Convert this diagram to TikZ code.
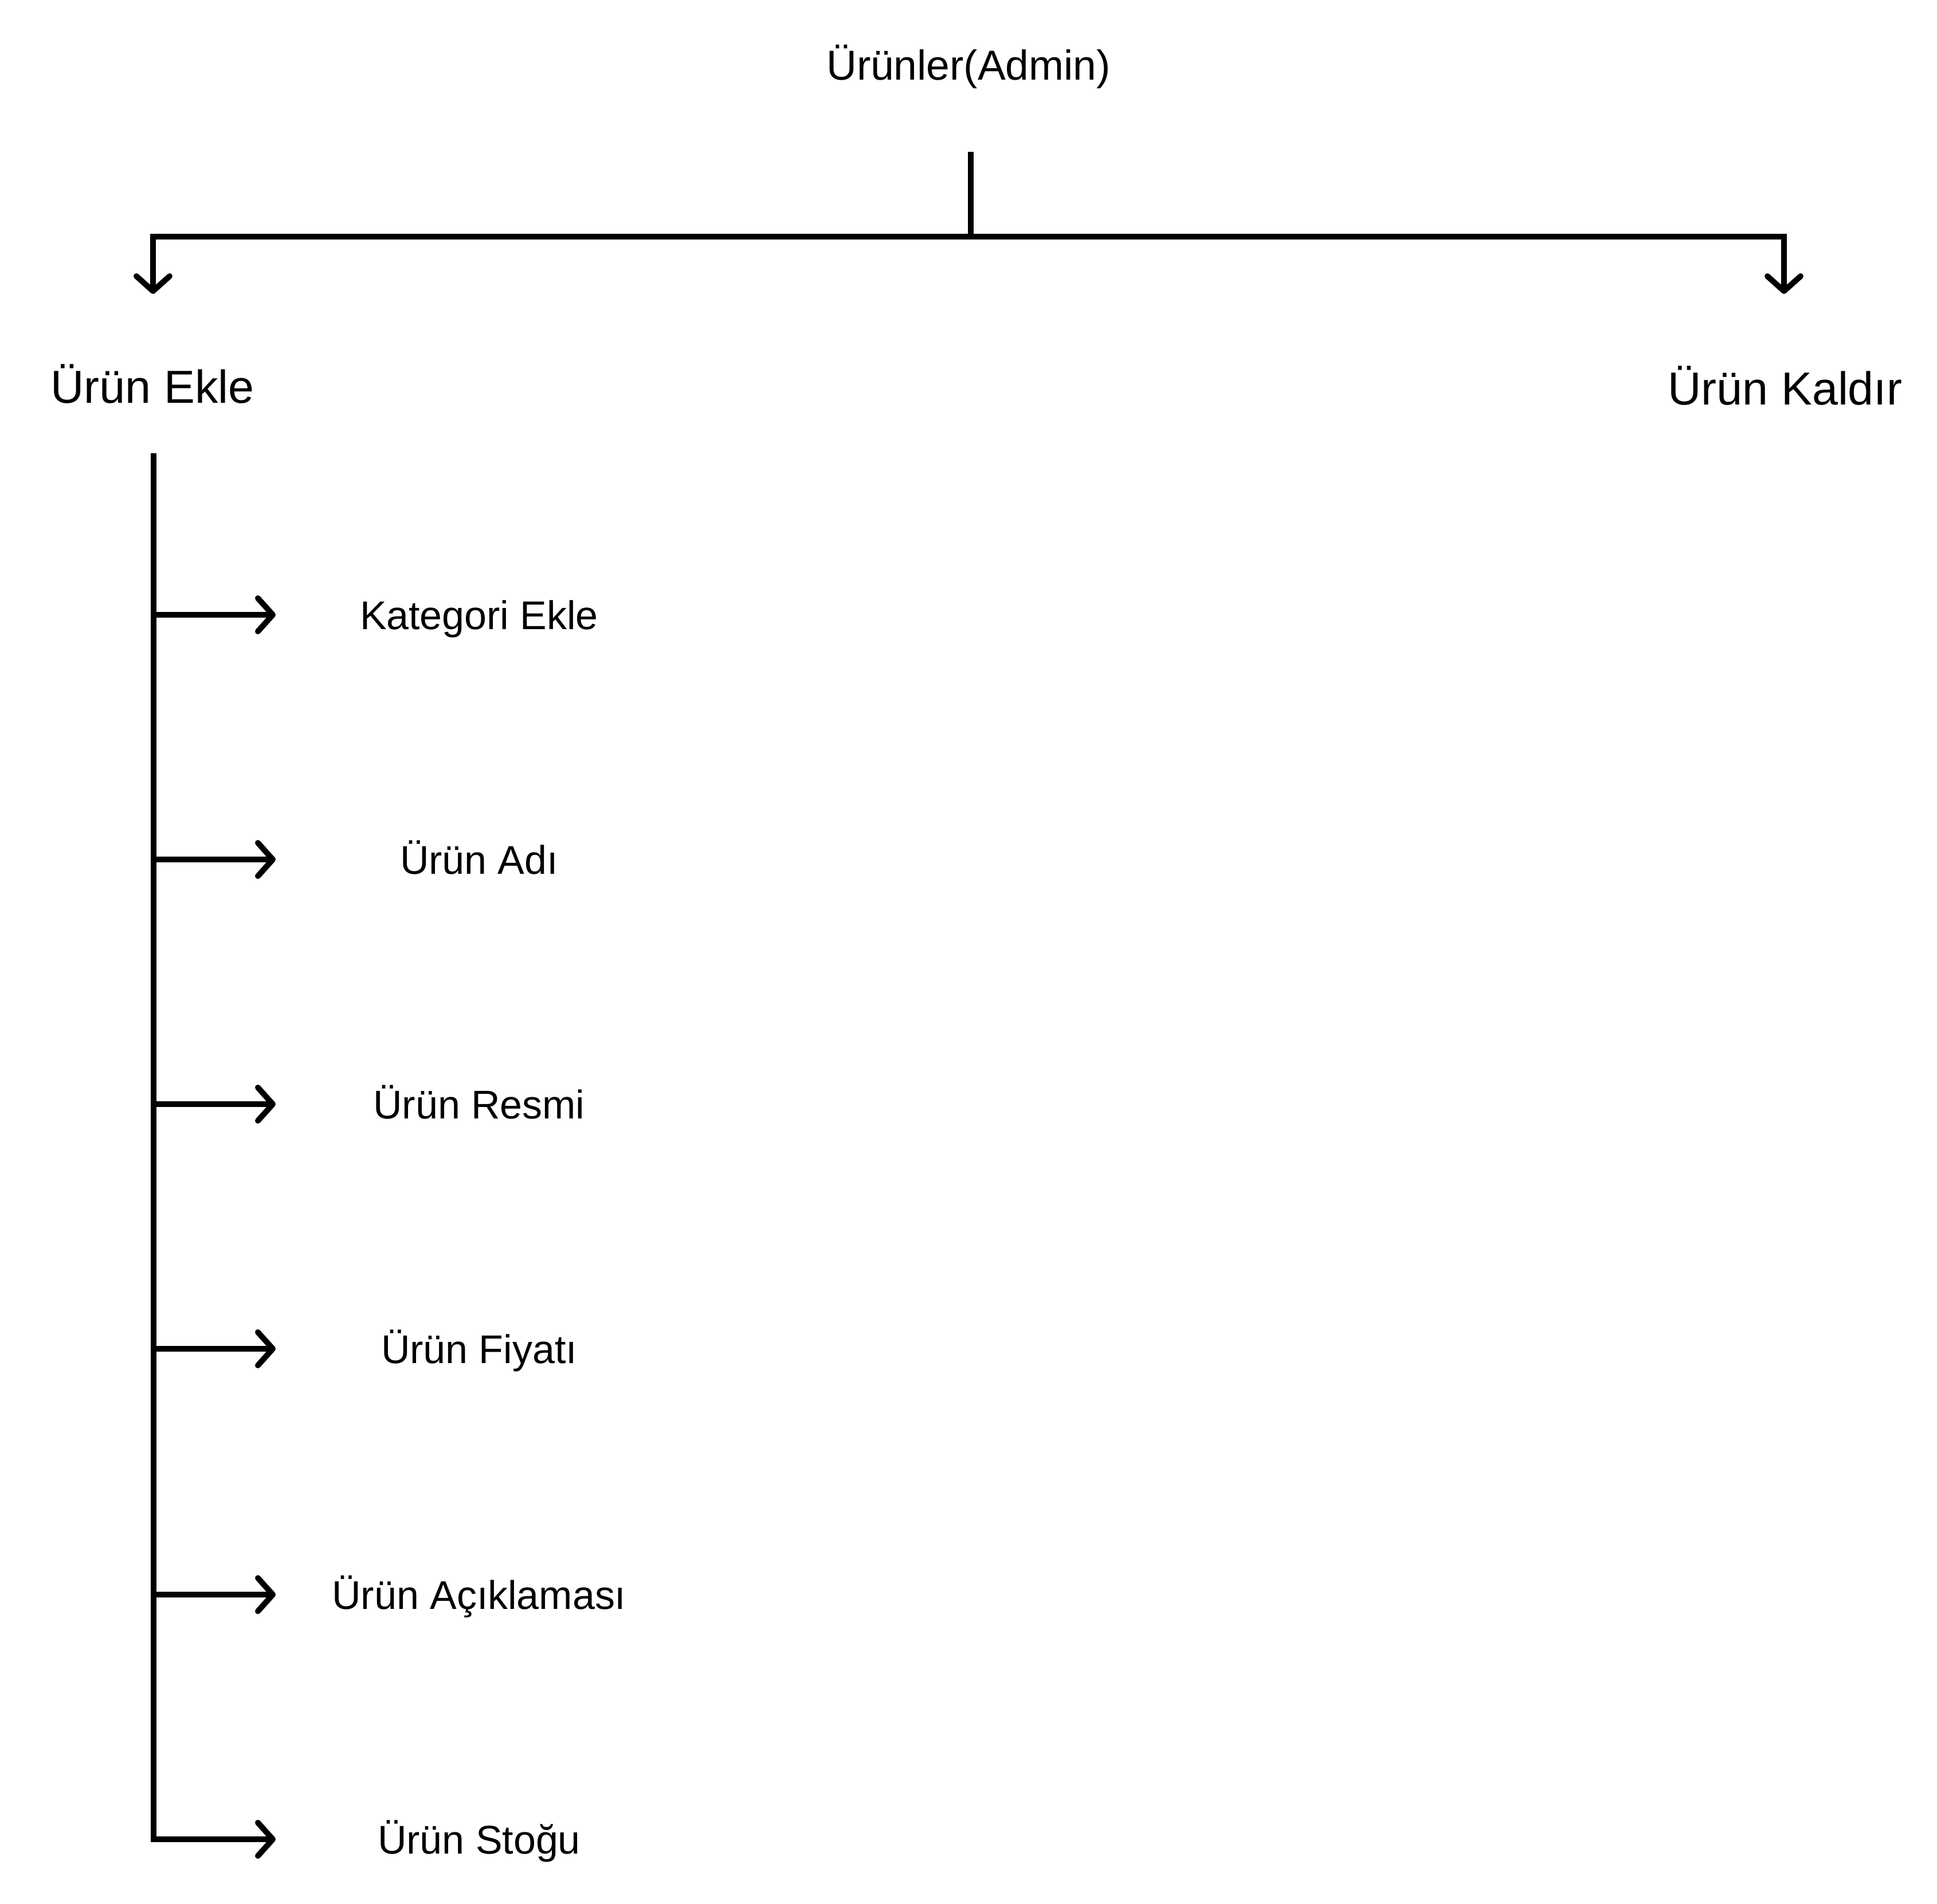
\documentclass[tikz,border=0pt]{standalone}
\usepackage{fontspec}
\setmainfont{Liberation Sans}
\usetikzlibrary{positioning,arrows.meta}

\begin{document}
\begin{tikzpicture}[
  line width=1mm,
  arr/.style={-{Straight Barb[length=2.6mm, width=5.8mm, line cap=round, line join=round]}},
  head/.style={anchor=base, font=\fontsize{20.8}{25}\selectfont},
  side/.style={anchor=base, font=\fontsize{23}{28}\selectfont},
  item/.style={anchor=base, yshift=-2.5mm, font=\fontsize{19.9}{24}\selectfont}
]
  \useasboundingbox (0,0) rectangle (33.80,-33.23);

  \node[head] (title) at (16.90,-1.40) {Ürünler(Admin)};
  \node[side] (ekle) at (2.66,-7.04) {Ürün Ekle};
  \node[side] (kaldir) at (31.15,-7.06) {Ürün Kaldır};

  % top split
  \coordinate (stem) at (16.94,-2.65);
  \coordinate (bar) at (16.94,-4.13);
  \coordinate (ekle-tip) at (2.67,-5.13);
  \coordinate (kaldir-tip) at (31.13,-5.13);
  \draw (stem) -- (bar);
  \draw[arr] (bar) -| (ekle-tip);
  \draw[arr] (bar) -| (kaldir-tip);

  % fields of Ürün Ekle
  \coordinate (trunk-top) at (2.68,-7.91);
  \foreach \name/\txt/\y in {kat/Kategori Ekle/-10.73, ad/Ürün Adı/-15.00,
      resim/Ürün Resmi/-19.27, fiyat/Ürün Fiyatı/-23.54,
      aciklama/Ürün Açıklaması/-27.83} {
    \coordinate (\name-tip) at (4.81,\y);
    \node[item] (\name) at (8.36,\y) {\txt};
    \draw[arr] (trunk-top |- \name-tip) -- (\name-tip);
  }
  \coordinate (stok-tip) at (4.81,-32.10);
  \node[item] (stok) at (8.36,-32.10) {Ürün Stoğu};
  \draw[arr] (trunk-top) |- (stok-tip);
\end{tikzpicture}
\end{document}
